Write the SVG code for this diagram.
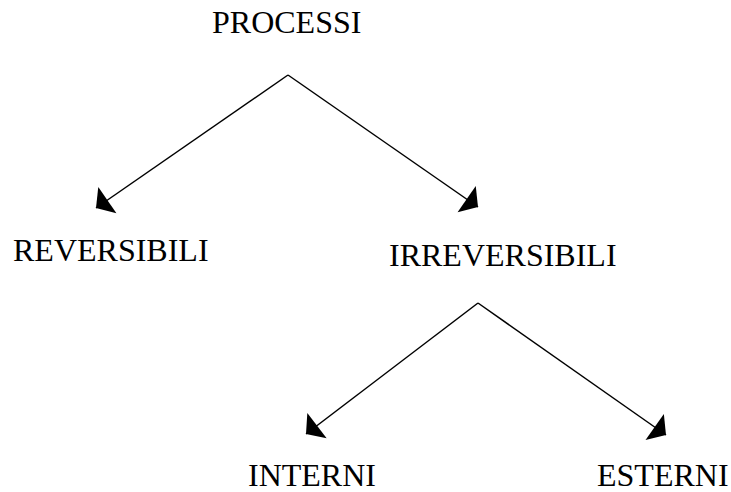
<svg xmlns="http://www.w3.org/2000/svg" width="731" height="492" viewBox="0 0 731 492">
<style>
text{font-family:"Liberation Serif","Times New Roman",serif;font-size:32px;fill:#000}
.c line{stroke:#000;stroke-width:1.5}
</style>
<defs>
<marker id="ah" markerUnits="userSpaceOnUse" markerWidth="20" markerHeight="34" viewBox="0 -16 14 32" refX="13" refY="0" orient="auto">
<path d="M0,-15 L13,0 L0,15 Z" fill="#000"/>
</marker>
</defs>
<rect width="731" height="492" fill="#fff"/>
<g id="processi"><text x="212" y="33">PROCESSI</text></g>
<g id="reversibili"><text x="13" y="261">REVERSIBILI</text></g>
<g id="irreversibili"><text x="389" y="266">IRREVERSIBILI</text></g>
<g id="interni"><text x="248" y="486">INTERNI</text></g>
<g id="esterni"><text x="597" y="486">ESTERNI</text></g>
<g class="c" id="connectors">
<line x1="288" y1="75" x2="96" y2="208" marker-end="url(#ah)"/>
<line x1="288" y1="75" x2="478" y2="207" marker-end="url(#ah)"/>
<line x1="478" y1="303" x2="306" y2="434" marker-end="url(#ah)"/>
<line x1="478" y1="303" x2="666" y2="435" marker-end="url(#ah)"/>
</g>
</svg>
